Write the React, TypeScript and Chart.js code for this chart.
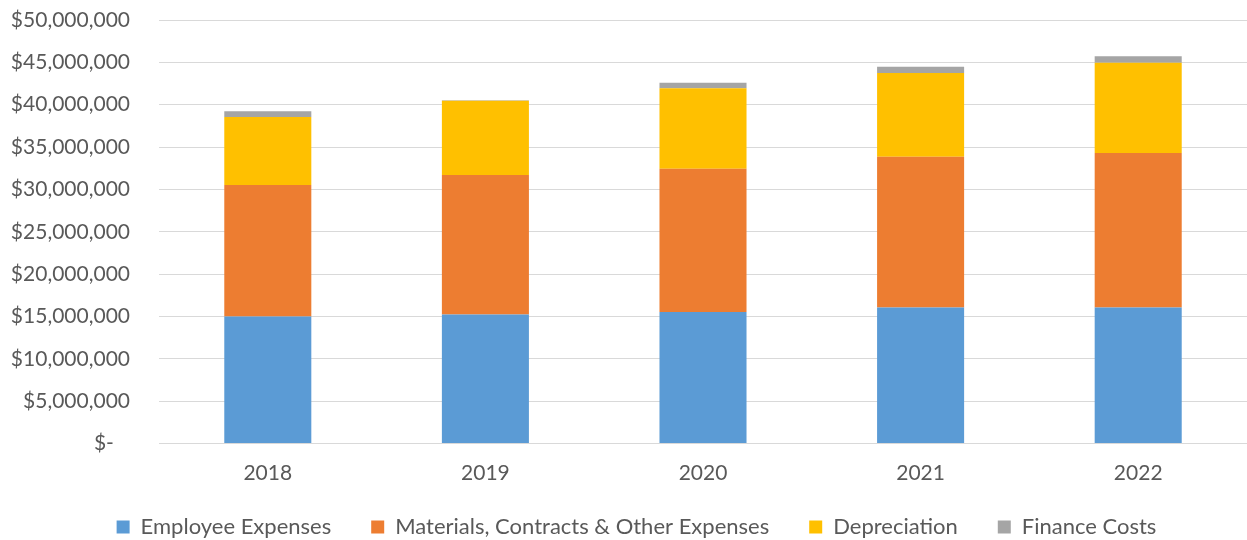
import React, { useEffect, useRef } from "react";
import { Chart, registerables } from "chart.js";

Chart.register(...registerables);

const years = ["2018", "2019", "2020", "2021", "2022"];
const employeeExpenses = [15000000, 15240000, 15540000, 16060000, 16060000];
const materialsContracts = [15510000, 16450000, 16900000, 17790000, 18230000];
const depreciation = [8030000, 8780000, 9490000, 9890000, 10670000];
const financeCosts = [680000, 50000, 660000, 750000, 750000];

const FONT = "Lato, 'Open Sans', sans-serif";
const TEXT = "#595959";
const GRID = "#d9d9d9";
const FS = 21;

function formatDollar(v: number): string {
  if (v === 0) return "$-   ";
  return "$" + v.toLocaleString("en-US");
}

export default function App() {
  const ref = useRef<HTMLCanvasElement | null>(null);

  useEffect(() => {
    if (!ref.current) return;
    const chart = new Chart(ref.current, {
      type: "bar",
      data: {
        labels: years,
        datasets: [
          { label: "Employee Expenses", data: employeeExpenses, backgroundColor: "#5b9bd5" },
          { label: "Materials, Contracts & Other Expenses", data: materialsContracts, backgroundColor: "#ed7d31" },
          { label: "Depreciation", data: depreciation, backgroundColor: "#ffc000" },
          { label: "Finance Costs", data: financeCosts, backgroundColor: "#a5a5a5" },
        ],
      },
      options: {
        animation: false,
        responsive: false,
        maintainAspectRatio: false,
        layout: { padding: { top: 20, left: 26, right: 0, bottom: 0 } },
        datasets: {
          bar: { barPercentage: 0.4, categoryPercentage: 1, borderWidth: 0 },
        },
        plugins: {
          title: { display: false },
          tooltip: { enabled: false },
          legend: {
            position: "bottom",
            labels: {
              boxWidth: 13,
              boxHeight: 13,
              padding: 40,
              color: TEXT,
              font: { family: FONT, size: 22 },
            },
          },
        },
        scales: {
          x: {
            stacked: true,
            grid: { display: false, drawTicks: false },
            border: { display: true, color: GRID, width: 1 },
            ticks: { color: TEXT, font: { family: FONT, size: FS }, padding: 17 },
            afterFit: (scale: any) => {
              scale.height = 32.5;
              scale._computeLabelArea = () => undefined;
            },
          },
          y: {
            stacked: true,
            min: 0,
            max: 50000000,
            grid: { color: GRID, lineWidth: 1, drawTicks: false },
            border: { display: false },
            ticks: {
              stepSize: 5000000,
              color: TEXT,
              font: { family: FONT, size: FS },
              padding: 29,
              callback: (v: any) => formatDollar(Number(v)),
            },
            afterFit: (scale: any) => {
              scale.width = 133;
              scale.paddingTop = 0;
              scale.paddingBottom = 0;
              scale._computeLabelArea = () => undefined;
            },
          },
        },
      },
    });
    return () => chart.destroy();
  }, []);

  return (
    <div style={{ position: "fixed", left: 0, top: 0, width: 1247, height: 540, overflow: "hidden", background: "#fff" }}>
      <canvas ref={ref} width={1247} height={548} style={{ display: "block", width: 1247, height: 548 }} />
    </div>
  );
}
